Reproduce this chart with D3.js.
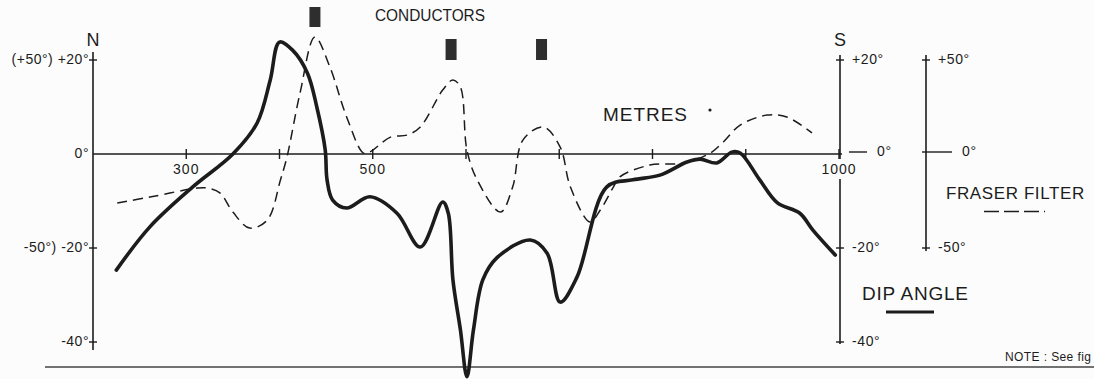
<!DOCTYPE html>
<html><head><meta charset="utf-8">
<script src="https://cdn.jsdelivr.net/npm/d3@7"></script>
<style>
html,body{margin:0;padding:0;background:#fcfcfc;}
svg{display:block;}
text{font-family:"Liberation Sans","DejaVu Sans",sans-serif;fill:#1c1c1c;}
</style></head>
<body><svg id="c" width="1094" height="379"></svg>
<script>
// ---- data ----
const dipMetres = [225,261,307,350,376,390,400,414,430,440,449,451,457,472,497,526,551,575,581,586,594,601,608,618,633,669,687,701,719,751,779,808,837,851,869,885,894,915,934,958,972,996];
const dipAngle  = [-24.7,-15.5,-7.0,0,6.6,15.7,23.8,22.1,17.2,10.0,0.9,-5.5,-9.8,-11.5,-9.1,-12.6,-19.8,-10.2,-12.6,-26.8,-37.4,-47.4,-37.4,-26.8,-22.1,-18.3,-21.1,-31.5,-26.2,-7.0,-5.5,-4.5,-1.7,-1.1,-1.9,0.4,0.2,-5.5,-10.4,-12.6,-16.2,-21.5];
const fraserMetres = [226,261,312,322,336,350,368,387,401,408,422,438,454,472,490,497,519,537,551,575,586,594,601,612,637,650,661,683,701,712,733,744,758,765,797,833,862,876,894,923,944,971];
const fraserValue  = [-26.1,-22.9,-18.1,-18.1,-20.7,-30.9,-39.4,-35.1,-13.8,-1.6,32.4,62.2,46.3,19.7,0.5,1.1,9.0,10.1,14.4,34.0,39.4,35.6,2.1,-13.8,-30.9,-17.6,7.4,14.4,3.7,-17.6,-36.2,-29.8,-17.6,-12.2,-5.9,-4.8,0.5,6.4,15.4,20.7,19.7,11.2];
const conductorMetres = [438, 584, 681];
const xTickValues = [300,400,500,600,700,800,900,1000];
const xTickLabels = ["300","","500","","","","","1000"];
const dipTicks = [20,0,-20,-40];
const dipLeftLabels = ["(+50°) +20°","0°","-50°) -20°","-40°"];
const dipRightLabels = ["+20°","0°","-20°","-40°"];
const fraserTicks = [50,0,-50];
const fraserLabels = ["+50°","0°","-50°"];

// ---- scales ----
const x = d3.scaleLinear().domain([200,1000]).range([93,839]);
const yDip = d3.scaleLinear().domain([-40,20]).range([342,60]);
const yFr = d3.scaleLinear().domain([-50,50]).range([248,60]);
const ink = "#1c1c1c";
const svg = d3.select("#c");

// bottom rule
svg.append("line").attr("x1",45).attr("x2",1094).attr("y1",367).attr("y2",367)
  .attr("stroke","#444").attr("stroke-width",1.4);

// zero line
svg.append("line").attr("x1",x(200)).attr("x2",x(1000)+3).attr("y1",yDip(0)).attr("y2",yDip(0))
  .attr("stroke",ink).attr("stroke-width",1.4);
// x ticks
svg.selectAll(".xt").data(xTickValues).join("line")
  .attr("x1",d=>x(d)).attr("x2",d=>x(d)).attr("y1",yDip(0)-5).attr("y2",yDip(0)+5)
  .attr("stroke",ink).attr("stroke-width",1.4);
svg.selectAll(".xl").data(xTickValues).join("text")
  .attr("x",d=>x(d)).attr("y",yDip(0)+16).attr("text-anchor","middle")
  .attr("dominant-baseline","middle").attr("font-size",14).attr("letter-spacing",1)
  .text((d,i)=>xTickLabels[i]);

// left axis
svg.append("line").attr("x1",x(200)).attr("x2",x(200)).attr("y1",52).attr("y2",350)
  .attr("stroke",ink).attr("stroke-width",1.6);
svg.selectAll(".lt").data(dipTicks.filter(d=>d!==0)).join("line")
  .attr("x1",x(200)-4).attr("x2",x(200)+4).attr("y1",d=>yDip(d)).attr("y2",d=>yDip(d))
  .attr("stroke",ink).attr("stroke-width",1.4);
svg.selectAll(".ll").data(dipTicks).join("text")
  .attr("x",x(200)-4).attr("y",d=>yDip(d)).attr("text-anchor","end")
  .attr("dominant-baseline","middle").attr("font-size",14).attr("letter-spacing",0.5)
  .text((d,i)=>dipLeftLabels[i]);
svg.append("text").attr("x",x(200)).attr("y",41).attr("text-anchor","middle")
  .attr("dominant-baseline","middle").attr("font-size",18).text("N");

// right dip axis (broken around the 1000 label)
const xr = x(1000)+1;
svg.append("line").attr("x1",xr).attr("x2",xr).attr("y1",55).attr("y2",yDip(0)+5)
  .attr("stroke",ink).attr("stroke-width",1.6);
svg.append("line").attr("x1",xr).attr("x2",xr).attr("y1",yDip(0)+25).attr("y2",344)
  .attr("stroke",ink).attr("stroke-width",1.6);
svg.selectAll(".rt").data(dipTicks).join("line")
  .attr("x1",d=>d===0?xr+9:xr-4).attr("x2",d=>d===0?xr+27:xr+4)
  .attr("y1",d=>yDip(d)-(d===0?2:0)).attr("y2",d=>yDip(d)-(d===0?2:0))
  .attr("stroke",ink).attr("stroke-width",1.4);
svg.selectAll(".rl").data(dipTicks).join("text")
  .attr("x",d=>d===0?xr+37:xr+12).attr("y",d=>yDip(d)-(d===0?2:0))
  .attr("dominant-baseline","middle").attr("font-size",14).attr("letter-spacing",0.6)
  .text((d,i)=>dipRightLabels[i]);
svg.append("text").attr("x",xr).attr("y",41).attr("text-anchor","middle")
  .attr("dominant-baseline","middle").attr("font-size",18).text("S");

// fraser axis
const xf = 926;
svg.append("line").attr("x1",xf).attr("x2",xf).attr("y1",55).attr("y2",251)
  .attr("stroke",ink).attr("stroke-width",1.6);
svg.selectAll(".ft").data(fraserTicks).join("line")
  .attr("x1",d=>xf-4).attr("x2",d=>d===0?xf+26:xf+4)
  .attr("y1",d=>yFr(d)-(d===0?2:0)).attr("y2",d=>yFr(d)-(d===0?2:0))
  .attr("stroke",ink).attr("stroke-width",1.4);
svg.selectAll(".fl").data(fraserTicks).join("text")
  .attr("x",d=>d===0?xf+36:xf+12).attr("y",d=>yFr(d)-(d===0?2:0))
  .attr("dominant-baseline","middle").attr("font-size",14).attr("letter-spacing",0.6)
  .text((d,i)=>fraserLabels[i]);

// conductors
svg.selectAll(".cb").data(conductorMetres).join("rect")
  .attr("x",d=>x(d)-5.5).attr("width",11)
  .attr("y",(d,i)=>i===0?7:39).attr("height",(d,i)=>i===0?20:21)
  .attr("fill","#2e2e2e");
svg.append("text").attr("x",375).attr("y",17).attr("dominant-baseline","middle")
  .attr("font-size",16).attr("textLength",110).attr("lengthAdjust","spacingAndGlyphs").text("CONDUCTORS");

// lines
const line = d3.line().curve(d3.curveCatmullRom.alpha(0.5));
svg.append("path")
  .attr("d",line(fraserMetres.map((m,i)=>[x(m),yFr(fraserValue[i])])))
  .attr("fill","none").attr("stroke",ink).attr("stroke-width",1.5)
  .attr("stroke-dasharray","10,6");
svg.append("path")
  .attr("d",line(dipMetres.map((m,i)=>[x(m),yDip(dipAngle[i])])))
  .attr("fill","none").attr("stroke",ink).attr("stroke-width",3.6)
  .attr("stroke-linejoin","round").attr("stroke-linecap","round");

// texts
svg.append("text").attr("x",603).attr("y",116).attr("dominant-baseline","middle")
  .attr("font-size",19).attr("textLength",84).text("METRES");
svg.append("circle").attr("cx",710).attr("cy",110).attr("r",1.6).attr("fill",ink);
svg.append("text").attr("x",946).attr("y",195).attr("dominant-baseline","middle")
  .attr("font-size",17).attr("letter-spacing",0.6).text("FRASER FILTER");
svg.append("line").attr("x1",984).attr("x2",1045).attr("y1",211.5).attr("y2",211.5)
  .attr("stroke",ink).attr("stroke-width",1.6).attr("stroke-dasharray","15,5");
svg.append("text").attr("x",862).attr("y",295).attr("dominant-baseline","middle")
  .attr("font-size",19).attr("textLength",106).text("DIP ANGLE");
svg.append("line").attr("x1",886).attr("x2",934).attr("y1",312).attr("y2",312)
  .attr("stroke",ink).attr("stroke-width",3);
svg.append("text").attr("x",1005).attr("y",358).attr("dominant-baseline","middle")
  .attr("font-size",12).attr("letter-spacing",0.4).text("NOTE : See fig");
</script></body></html>
